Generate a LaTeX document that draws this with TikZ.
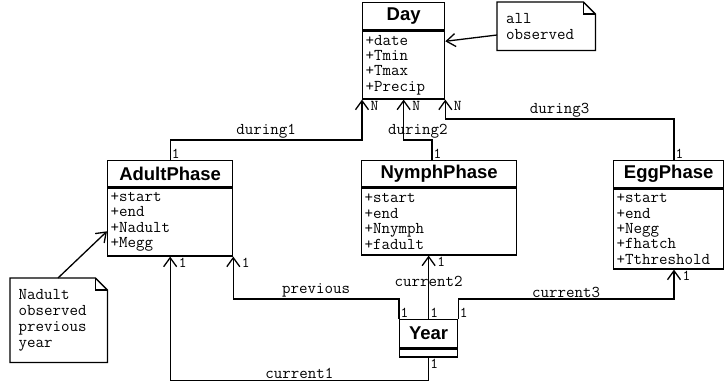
\documentclass[tikz,border=0pt]{standalone}
\usepackage{fontspec}
\setsansfont{Liberation Sans}
\usetikzlibrary{arrows.meta}

\begin{document}
\begin{tikzpicture}[x=1pt, y=-1pt,
		box/.style={draw, line width=1.3pt, inner sep=0pt, anchor=north west},
		ttl/.style={box, font=\fontsize{18.5}{20}\sffamily\bfseries},
		att/.style={box, font=\fontsize{16.5}{15.4}\ttfamily, align=left, inner xsep=3pt, text width=#1},
		rel/.style={line width=1.3pt, -{Straight Barb[length=9pt, width=13pt, line width=1.3pt]}},
		lbl/.style={font=\fontsize{16.5}{17}\ttfamily, inner sep=1pt},
		mult/.style={font=\fontsize{15}{15}\ttfamily, inner sep=1pt},
		note/.style={anchor=north west, font=\fontsize{16.5}{16}\ttfamily, align=left, inner sep=0pt},
		fold/.style={line width=1.3pt}]
		\useasboundingbox (0,0) rectangle (724,386);

		% classes
		\node[ttl, minimum width=82pt, minimum height=27pt] (dayT) at (362,2) {Day};
		\node[att=76pt, minimum height=68pt] (day) at (dayT.south west) {+date\\+Tmin\\+Tmax\\+Precip};
		\node[ttl, minimum width=125pt, minimum height=26pt] (adultT) at (107,160) {AdultPhase};
		\node[att=119pt, minimum height=68pt] (adult) at (adultT.south west) {+start\\+end\\+Nadult\\+Megg};
		\node[ttl, minimum width=155pt, minimum height=26pt] (nymphT) at (361,160) {NymphPhase};
		\node[att=149pt, minimum height=67pt] (nymph) at (nymphT.south west) {+start\\+end\\+Nnymph\\+fadult};
		\node[ttl, minimum width=110pt, minimum height=27pt] (eggT) at (613,160) {EggPhase};
		\node[att=104pt, minimum height=80pt] (egg) at (eggT.south west) {+start\\+end\\+Negg\\+fhatch\\+Tthreshold};
		\node[ttl, minimum width=58pt, minimum height=28pt] (yearT) at (399,319) {Year};
		\node[att=52pt, minimum height=8pt] (year) at (yearT.south west) {};

		% notes
		\node[note, minimum width=98pt, minimum height=48pt, text width=80pt] (allobs) at (497,2) {all\\observed};
		\draw[fold] (allobs.north west) -- ([xshift=-12pt]allobs.north east) -- ([yshift=-12pt]allobs.north east) -- (allobs.south east) -- (allobs.south west) -- cycle;
		\draw[fold] ([xshift=-12pt]allobs.north east) |- ([yshift=-12pt]allobs.north east);
		\node[note, minimum width=97pt, minimum height=84pt, text width=80pt] (prevobs) at (10,278) {Nadult\\observed\\previous\\year};
		\draw[fold] (prevobs.north west) -- ([xshift=-12pt]prevobs.north east) -- ([yshift=-12pt]prevobs.north east) -- (prevobs.south east) -- (prevobs.south west) -- cycle;
		\draw[fold] ([xshift=-12pt]prevobs.north east) |- ([yshift=-12pt]prevobs.north east);
		\draw[rel] ([yshift=-33pt]allobs.north west) -- ([yshift=-11pt]day.north east);
		\draw[rel] ([xshift=48pt]prevobs.north west) -- ([yshift=-44pt]adult.north west);

		% associations to Day
		\draw[rel] (adultT.north) -- node[mult, at start, anchor=south west] (d1s) {1} ++(0,-20)
			-| node[lbl, above, pos=0.25] (d1) {during1} node[mult, at end, anchor=north west, xshift=7pt] (d1e) {N} (day.south west);
		\draw[rel] ([xshift=71pt]nymphT.north west) -- node[mult, at start, anchor=south west] (d2s) {1} ++(0,-20)
			-| node[lbl, above, pos=0.25] (d2) {during2} node[mult, at end, anchor=north west, xshift=7pt] (d2e) {N} (day.south);
		\draw[rel] ([xshift=61pt]eggT.north west) -- node[mult, at start, anchor=south west] (d3s) {1} ++(0,-41)
			-| node[lbl, above, pos=0.25] (d3) {during3} node[mult, at end, anchor=north west, xshift=7pt] (d3e) {N} (day.south east);

		% associations from Year
		\draw[rel] (yearT.north west) -- node[mult, at start, anchor=south west] (ps) {1} ++(0,-20)
			-| node[lbl, above, pos=0.25] (prev) {previous} node[mult, at end, anchor=north west, xshift=7pt] (pe) {1} (adult.south east);
		\draw[rel] (year.south) -- node[mult, at start, anchor=north west] (c1s) {1} ++(0,23)
			-| node[lbl, above, pos=0.25] (c1) {current1} node[mult, at end, anchor=north west, xshift=7pt] (c1e) {1} (adult.south);
		\draw[rel] (yearT.north) -- node[mult, at start, anchor=south west] (c2s) {1} node[lbl, pos=0.6] (c2) {current2}
			node[mult, at end, anchor=north west, xshift=7pt] (c2e) {1} (yearT.north |- nymph.south);
		\draw[rel] (yearT.north east) -- node[mult, at start, anchor=south west] (c3s) {1} ++(0,-20)
			-| node[lbl, above, pos=0.25] (c3) {current3} node[mult, at end, anchor=north west, xshift=7pt] (c3e) {1} ([xshift=61pt]egg.south west);
	\end{tikzpicture}
\end{document}
